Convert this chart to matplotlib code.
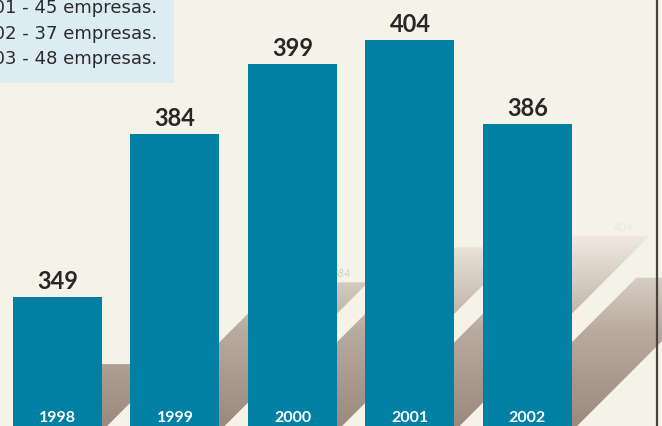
import numpy as np
import matplotlib
matplotlib.use("Agg")
import matplotlib.pyplot as plt
from matplotlib.colors import LinearSegmentedColormap
from matplotlib.patches import Polygon, Rectangle
from matplotlib.lines import Line2D
import matplotlib.transforms as mtransforms

years = ["1998", "1999", "2000", "2001", "2002"]
values = [349, 384, 399, 404, 386]
notes = ["2001 - 45 empresas.", "2002 - 37 empresas.", "2003 - 48 empresas."]

W, H = 662, 426
bg = "#f5f3e7"
bar_color = "#0080a3"

plt.rcParams["font.family"] = ["Lato", "DejaVu Sans"]

fig = plt.figure(figsize=(W / 100, H / 100), dpi=100, facecolor=bg)
ax = fig.add_axes([0, 0, 1, 1])
ax.set_facecolor(bg)
ax.set_axis_off()

# axis window: the bars are cut by the bottom edge
xlim = (-0.489, 5.145)
ylim = (321.4, 412.6)
floor = 320.3
px_x = W / (xlim[1] - xlim[0])
px_y = H / (ylim[1] - ylim[0])

x = np.arange(len(values))
width = 0.757
ax.bar(x, values, width=width, bottom=0, color=bar_color, zorder=3)

# oblique floor shadows with a vertical gradient
shade = LinearSegmentedColormap.from_list("shade", ["#9c8a7e", "#b9aa9f", "#efe9df"])
yy = np.linspace(ylim[0], ylim[1], 300)
t = np.clip((yy - ylim[0]) / (362.0 - ylim[0]), 0, 1)
grad = np.tile(t[:, None], (1, 2))
for i, (xi, v) in enumerate(zip(x, values)):
    dy = 0.5 * (v - floor)
    dx = dy * px_y / px_x
    x0, x1 = xi - width / 2, xi + width / 2
    poly = Polygon([(x0, floor), (x1, floor), (x1 + dx, floor + dy), (x0 + dx, floor + dy)],
                   closed=True, facecolor="none", edgecolor="none")
    ax.add_patch(poly)
    im = ax.imshow(grad, cmap=shade, vmin=0, vmax=1, origin="lower",
                   extent=(xlim[0], xlim[1], ylim[0], ylim[1]), aspect="auto", zorder=1)
    im.set_clip_path(poly)
    ax.annotate(str(v), (xi + dx, floor + dy), xytext=(18, 5), textcoords="offset pixels",
                ha="center", va="baseline", fontsize=8, style="italic",
                color="#d6cec4" if i < 3 else "#ece7dd", zorder=2)

for xi, v in zip(x, values):
    ax.annotate(str(v), (xi, v), xytext=(0, 8), textcoords="offset pixels",
                ha="center", va="baseline", fontsize=17, fontweight="bold",
                color="#2a2526", zorder=4)

trans = mtransforms.blended_transform_factory(ax.transData, ax.transAxes)
for xi, yr in zip(x, years):
    ax.text(xi, 4 / H, yr, transform=trans, ha="center", va="baseline",
            fontsize=11.5, fontweight="bold", color="white", zorder=4)

ax.set_xlim(*xlim)
ax.set_ylim(*ylim)

# note box in the top left corner (text runs off the left edge, as in the source)
ax.add_patch(Rectangle((0, 1 - 83 / H), 174 / W, 83 / H, transform=ax.transAxes,
                       facecolor="#ddecf2", edgecolor="none", zorder=5))
for i, s in enumerate(notes):
    ax.text(157 / W, 1 - (8.3 + 25.6 * i) / H, s, transform=ax.transAxes,
            ha="right", va="center", fontsize=13, color="#2b2b2b",
            family="DejaVu Sans", zorder=6)

fig.add_artist(Line2D([657 / W, 657 / W], [0, 1], color="#4a4440", lw=1.6,
                      transform=fig.transFigure))

fig.savefig("out.png", dpi=100, facecolor=bg)
